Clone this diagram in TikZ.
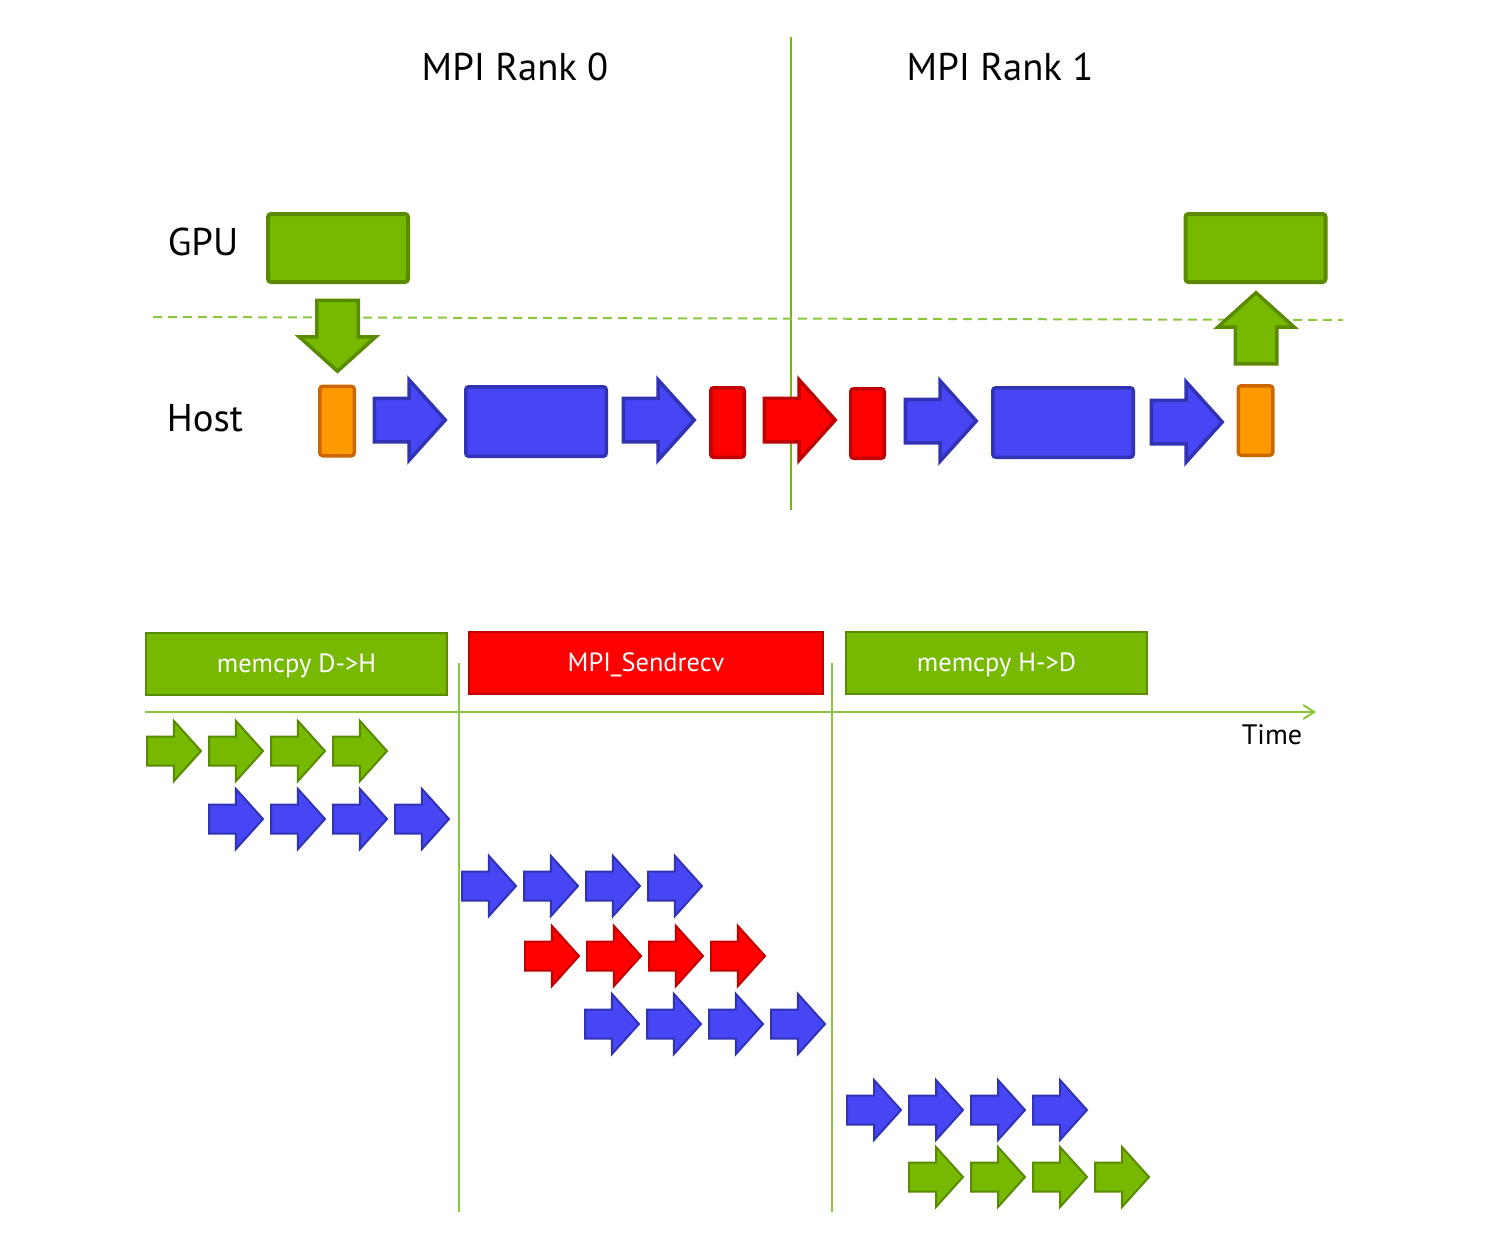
\documentclass[tikz,border=0pt]{standalone}
\usepackage{fontspec}
\setmainfont{PT Sans}
\usetikzlibrary{arrows.meta, shapes.arrows}

\definecolor{nvgreen}{HTML}{76B900}
\definecolor{nvgreendark}{HTML}{5A8A00}
\definecolor{guidegreen}{HTML}{8CC63F}
\definecolor{hostblue}{HTML}{4646F4}
\definecolor{hostbluedark}{HTML}{3232B4}
\definecolor{mpired}{HTML}{FF0000}
\definecolor{mpireddark}{HTML}{C00000}
\definecolor{bufora}{HTML}{FF9900}
\definecolor{buforadark}{HTML}{CC6600}

\begin{document}
\begin{tikzpicture}[
    x=0.2mm, y=-0.2mm,
    every node/.style={inner sep=0pt},
    title/.style={font=\fontsize{22}{26}\selectfont},
    boxtext/.style={font=\fontsize{15}{18}\selectfont, text=white},
    gpubox/.style={
      rectangle, rounded corners=0.6mm,
      draw=nvgreendark, line width=0.8mm,
      fill=nvgreen, minimum width=28.0mm, minimum height=13.6mm
    },
    hostbox/.style={
      rectangle, rounded corners=0.6mm,
      draw=hostbluedark, line width=0.7mm,
      fill=hostblue, minimum width=28.1mm, minimum height=13.9mm
    },
    mpibox/.style={
      rectangle, rounded corners=0.6mm,
      draw=mpireddark, line width=0.7mm,
      fill=mpired, minimum width=6.7mm, minimum height=13.9mm
    },
    bufbox/.style={
      rectangle, rounded corners=0.6mm,
      draw=buforadark, line width=0.7mm,
      fill=bufora, minimum width=6.9mm, minimum height=13.9mm
    },
    bigarr/.style={
      single arrow, anchor=tail, line width=0.7mm,
      inner sep=4mm,
      single arrow head extend=3.7mm, single arrow tip angle=96,
      minimum width=15.4mm, minimum height=14.2mm
    },
    vertarr/.style={
      bigarr, draw=nvgreendark, fill=nvgreen,
      inner sep=3.8mm, minimum width=0pt, single arrow head extend=3.5mm
    },
    smallarr/.style={
      single arrow, anchor=tail, line width=0.4mm,
      inner xsep=0pt, inner ysep=2.7mm,
      single arrow head extend=3.1mm, single arrow tip angle=96,
      minimum width=11.6mm, minimum height=10.8mm
    },
    gsmall/.style={smallarr, draw=nvgreendark, fill=nvgreen},
    bsmall/.style={smallarr, draw=hostbluedark, fill=hostblue},
    rsmall/.style={smallarr, draw=mpireddark, fill=mpired},
    phase/.style={
      rectangle, draw=nvgreendark, line width=0.4mm,
      fill=nvgreen, minimum width=60.2mm, minimum height=12.4mm,
      text height=2.1ex, text depth=0.1ex
    },
    guide/.style={guidegreen, line width=0.4mm}
  ]
    \useasboundingbox (0,0) rectangle (1490,1240);

    % Titles and row labels
    \node[title] (rank0) at (515,67) {MPI Rank 0};
    \node[title] (rank1) at (1000,67) {MPI Rank 1};
    \node[title] (gpu)  at (203,242) {GPU};
    \node[title] (host) at (205,418) {Host};

    % rank divider and GPU/host boundary
    \coordinate (divtop) at (791,37);
    \coordinate (divbot) at (791,510);
    \draw[nvgreen, line width=0.4mm] (divtop) -- (divbot);
    \coordinate (bndl) at (153,317);
    \coordinate (bndr) at (1343,320);
    \draw[guide, dash pattern=on 1.8mm off 1.2mm] (bndl) -- (bndr);

    % GPU buffers
    \node[gpubox] (gpu0) at (338,248) {};
    \node[gpubox] (gpu1) at (1255.5,248) {};
    \node[vertarr, shape border rotate=270] (d2h) at (337.5,298.5) {};
    \node[vertarr, shape border rotate=90] (h2d) at (1256,365.5) {};

    % Host pipeline
    \node[bufbox] (buf0) at (337,421) {};
    \node[bigarr, draw=hostbluedark, fill=hostblue] (ha1) at (372.5,420) {};
    \node[hostbox] (pack0) at (536,421.5) {};
    \node[bigarr, draw=hostbluedark, fill=hostblue] (ha2) at (621.5,420) {};
    \node[mpibox] (send0) at (727.5,422.5) {};
    \node[bigarr, draw=mpireddark, fill=mpired] (xfer) at (762.5,420) {};
    \node[mpibox] (recv1) at (867.5,423.5) {};
    \node[bigarr, draw=hostbluedark, fill=hostblue] (ha3) at (903.5,421) {};
    \node[hostbox] (pack1) at (1063,422.5) {};
    \node[bigarr, draw=hostbluedark, fill=hostblue] (ha4) at (1149.5,422) {};
    \node[bufbox] (buf1) at (1255.5,420.5) {};

    % Timeline phases
    \node[phase, boxtext] (phd2h) at (296.5,664) {memcpy D->H};
    \node[phase, boxtext, draw=mpireddark, fill=mpired, minimum width=70.8mm] (phmpi) at (646,663) {MPI\_Sendrecv};
    \node[phase, boxtext] (phh2d) at (996.5,663) {memcpy H->D};

    \coordinate (t0) at (145,712);
    \coordinate (t1) at (1316,712);
    \draw[guide, -{Straight Barb[length=2.2mm, width=2.8mm]}] (t0) -- (t1);
    \node[font=\fontsize{16}{19}\selectfont] (time) at (1272,735) {Time};

    \coordinate (cutatop) at (459,663);
    \coordinate (cutabot) at (459,1212);
    \coordinate (cutbtop) at (832,663);
    \coordinate (cutbbot) at (832,1212);
    \draw[guide] (cutatop) -- (cutabot);
    \draw[guide] (cutbtop) -- (cutbbot);

    % Pipelined chunks
    \foreach \rowy/\rowx/\kind [count=\r] in {751/146/gsmall, 819/208/bsmall,
        886/461/bsmall, 956/524/rsmall, 1024/584/bsmall, 1110/846/bsmall, 1177/908/gsmall}
      \foreach \i in {0,...,3}
        \node[\kind] (chunk\r-\i) at (\rowx+62*\i,\rowy) {};

\end{tikzpicture}
\end{document}
